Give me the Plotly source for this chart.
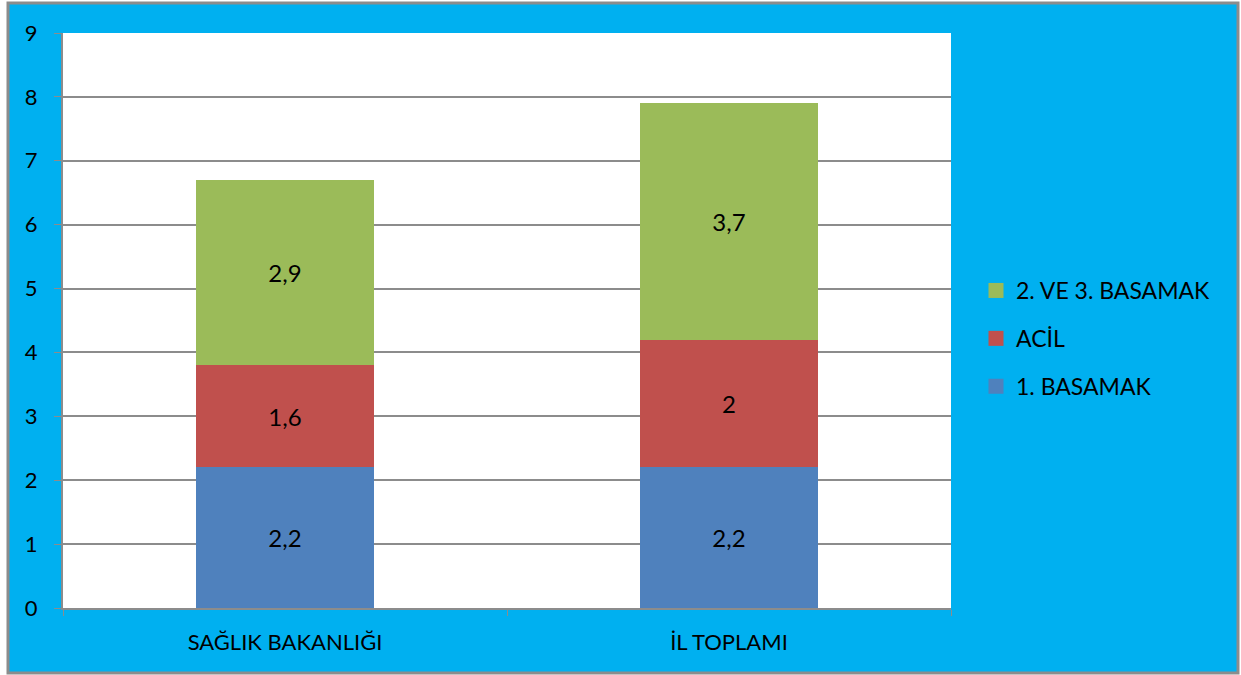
import plotly.graph_objects as go

categories = ["SAĞLIK BAKANLIĞI", "İL TOPLAMI"]
series_names = ["1. BASAMAK", "ACİL", "2. VE 3. BASAMAK"]
basamak1 = [2.2, 2.2]
acil = [1.6, 2.0]
basamak23 = [2.9, 3.7]
colors = ["#4F81BD", "#C0504D", "#9BBB59"]
y_ticks = [0, 1, 2, 3, 4, 5, 6, 7, 8, 9]

FONT = "Lato, Carlito, Liberation Sans, sans-serif"

fig = go.Figure()
for name, vals, col in zip(series_names, [basamak1, acil, basamak23], colors):
    fig.add_trace(go.Bar(
        x=categories, y=vals, name=name, marker=dict(color=col, line=dict(width=0)),
        texttemplate="%{y}", textposition="inside", insidetextanchor="middle",
        textfont=dict(color="black", size=24, family=FONT), textangle=0,
        showlegend=False,
    ))
# legend entries with square markers (top to bottom: last series first)
for i, (name, col) in enumerate(reversed(list(zip(series_names, colors)))):
    fig.add_trace(go.Scatter(
        x=[None], y=[None], mode="markers", name=name, legendgroup=f"g{i}",
        marker=dict(symbol="square", size=15, color=col), showlegend=True,
    ))

W, H = 1241, 675
l, r, t, b = 63, 290, 33, 67
pw, ph = W - l - r, H - t - b

def px_x(x):
    return (x - l) / pw

def px_y(y):
    return (H - b - y) / ph

fig.update_layout(
    width=W, height=H, barmode="stack", bargap=0.6,
    separators=",.",
    paper_bgcolor="white", plot_bgcolor="white",
    margin=dict(l=l, r=r, t=t, b=b, autoexpand=False),
    font=dict(family=FONT, size=22, color="black"),
    showlegend=True,
    legend=dict(traceorder="grouped", x=px_x(976), y=px_y(269), xanchor="left", yanchor="top",
                bgcolor="rgba(0,0,0,0)", font=dict(size=23, family=FONT),
                itemsizing="trace", tracegroupgap=15, itemwidth=30),
    xaxis=dict(showline=True, linecolor="#8C8C8C", linewidth=2, ticks="outside", tickson="boundaries",
               ticklen=6, tickcolor="#8C8C8C", tickfont=dict(size=22, family=FONT), ticklabelstandoff=14),
    yaxis=dict(range=[0, 9], tickvals=y_ticks, showgrid=True, gridcolor="#8C8C8C", gridwidth=1.5,
               showline=True, linecolor="#8C8C8C", linewidth=2, ticks="outside", ticklen=7,
               tickcolor="#8C8C8C", tickfont=dict(size=22, family=FONT), ticklabelstandoff=12,
               zeroline=False),
    shapes=[
        dict(type="rect", xref="paper", yref="paper", layer="below",
             x0=px_x(8), x1=px_x(1238), y0=px_y(673), y1=px_y(3),
             fillcolor="#00B0F0", line=dict(color="#8C8C8C", width=3)),
        dict(type="rect", xref="paper", yref="paper", layer="below",
             x0=0, x1=1, y0=0, y1=1, fillcolor="white", line=dict(width=0)),
    ],
)

fig.write_html("out.html", post_script="document.body.style.margin='0';",
               config={"displayModeBar": False})
